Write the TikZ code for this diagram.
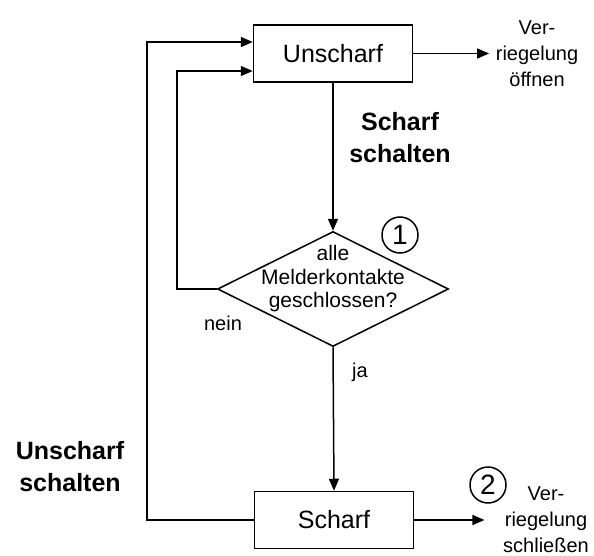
\documentclass[tikz,border=0pt]{standalone}
\usepackage{fontspec}
\setmainfont{Liberation Sans}
\usetikzlibrary{shapes.geometric,arrows.meta,positioning}

\begin{document}
\begin{tikzpicture}[x=1pt,y=-1pt,line width=1.5pt,
    state/.style={draw, minimum width=159pt, minimum height=57pt, inner sep=0pt, font=\fontsize{25}{30}\selectfont},
    check/.style={draw, diamond, minimum width=231pt, minimum height=115pt, inner sep=0pt},
    small/.style={align=center, font=\fontsize{20}{26}\selectfont},
    event/.style={align=center, font=\fontsize{25}{32}\selectfont\bfseries},
    num/.style={draw, circle, minimum size=36pt, inner sep=0pt, font=\fontsize{28}{28}\selectfont},
    arr/.style={-{Triangle[length=12pt,width=10pt]}}]
      \useasboundingbox (0,0) rectangle (594,556);

      % States and check
      \node[state] (unscharf) at (333,53.5) {Unscharf};
      \node[check] (check) at (333,289) {};
      \node[small, font=\fontsize{21}{23.5}\selectfont] (checktext) at (333,279) {alle\\Melderkontakte\\geschlossen?};
      \node[state] (scharf) at (334,520) {Scharf};

      % Outputs
      \node[small, inner xsep=6pt] (open) at (537,53.5) {Ver-\\riegelung\\öffnen};
      \node[small, inner xsep=18pt] (close) at (546,520) {Ver-\\riegelung\\schließen};
      \node[num] (one) at (400,235) {1};
      \node[num] (two) at (488,485) {2};

      % Labels
      \node[event] (arm) at (400,138) {Scharf\\schalten};
      \node[event] (disarm) at (70,467) {Unscharf\\schalten};
      \node[small] (no) at (223,323) {nein};
      \node[small] (yes) at (360,372) {ja};

      % Connectors
      \draw[arr] (unscharf.south) -- (check.north);
      \draw[arr] (check.south) -- (scharf.north);
      \draw[arr] (check.west) -- ++(-40,0) |- ([yshift=-17.5pt]unscharf.west);
      \draw[arr] (scharf.west) -- ++(-107,0) |- ([yshift=11.5pt]unscharf.west);
      \draw[arr] (unscharf.east) -- (open.west);
      \draw[arr] (scharf.east) -- (close.west);
    \end{tikzpicture}
\end{document}
